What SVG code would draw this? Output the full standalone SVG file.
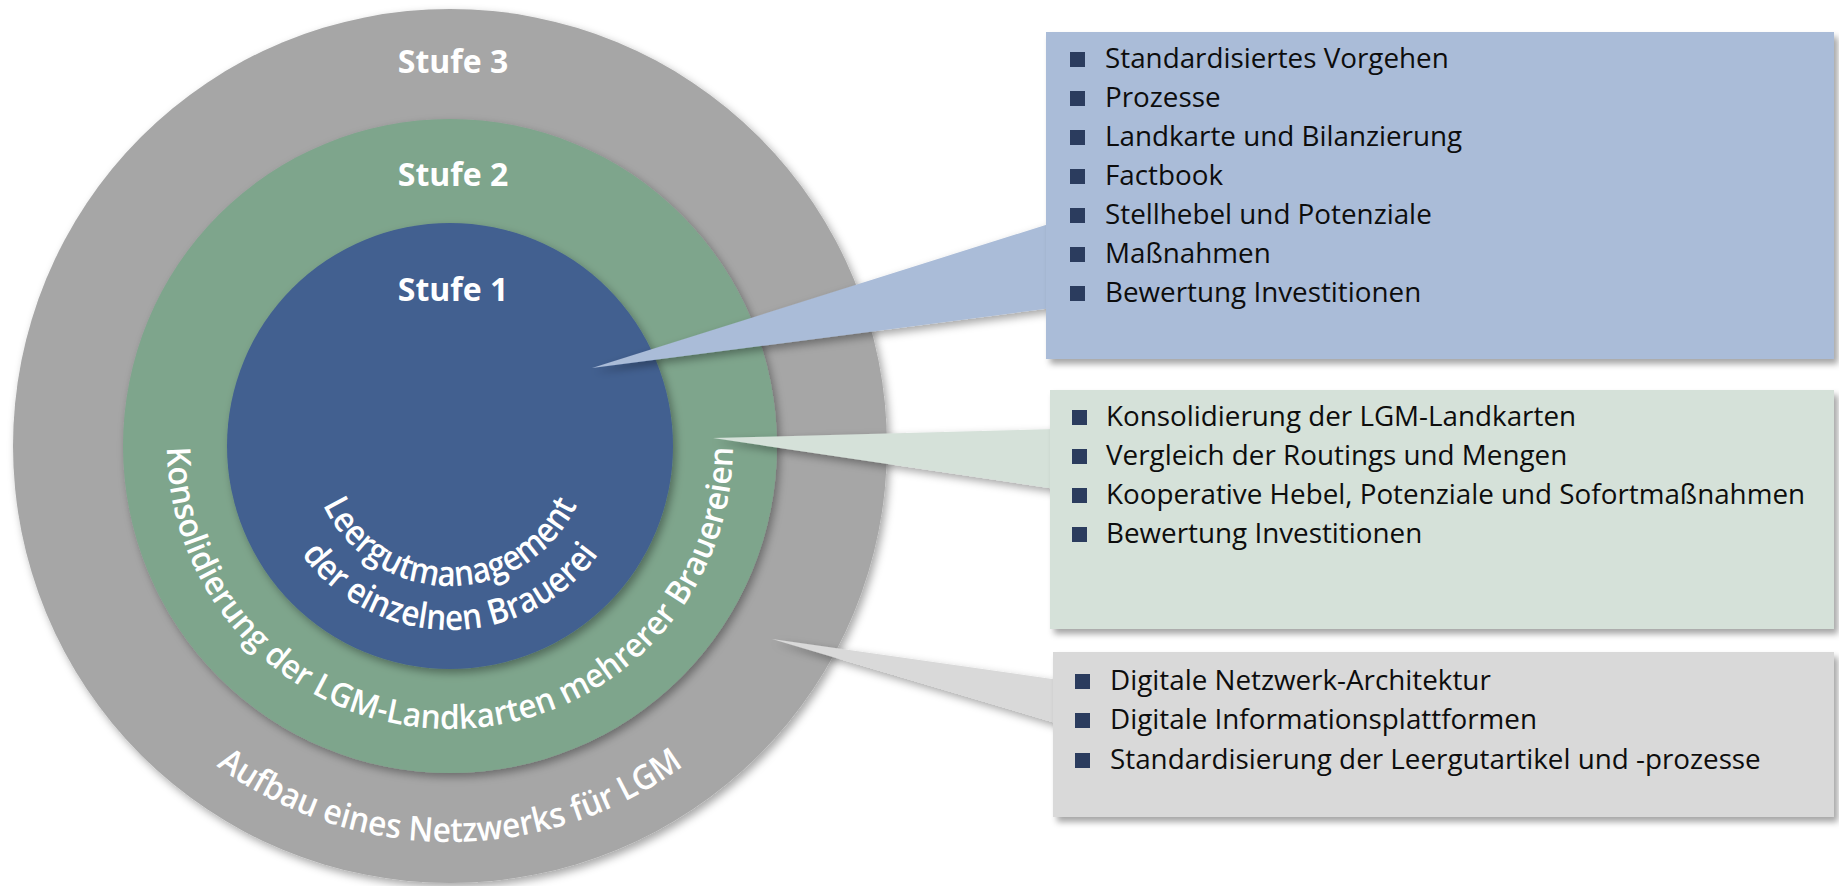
<svg xmlns="http://www.w3.org/2000/svg" xmlns:xlink="http://www.w3.org/1999/xlink" width="1839" height="886" viewBox="0 0 1839 886">
  <style>
    .stage-label { font-family: "Open Sans", "Liberation Sans", sans-serif; font-weight: 700; font-size: 32px; fill: #ffffff; text-anchor: middle; }
    .arc-text { font-family: "Open Sans", "Liberation Sans", sans-serif; font-weight: 600; fill: #ffffff; text-anchor: middle; }
    .item { font-family: "Open Sans", "Liberation Sans", sans-serif; font-size: 27.8px; fill: #0d0d0d; }
    .bullet { fill: #2b3c5e; }
    .c-gray { fill: #a6a6a6; }
    .c-green { fill: #7ea58c; }
    .c-blue { fill: #426090; }
    .f-blue { fill: #aabcd8; }
    .f-green { fill: #d5e1d9; }
    .f-gray { fill: #d9d9d9; }
  </style>
  <defs>
    <filter id="soft-shadow" x="-10%" y="-10%" width="125%" height="125%">
      <feDropShadow dx="3" dy="4" stdDeviation="4" flood-color="#000000" flood-opacity="0.35"/>
    </filter>
    <filter id="box-shadow" x="-5%" y="-10%" width="112%" height="125%">
      <feDropShadow dx="4" dy="5" stdDeviation="3" flood-color="#000000" flood-opacity="0.35"/>
    </filter>
    <!-- full circles starting at the top, running counter-clockwise so the midpoint is the bottom -->
    <path id="arc-outer" d="M450,50 A396,396 0 0 0 450,842 A396,396 0 0 0 450,50"/>
    <path id="arc-middle" d="M450,163 A283,283 0 0 0 450,729 A283,283 0 0 0 450,163"/>
    <path id="arc-inner-1" d="M450,306 A140,140 0 0 0 450,586 A140,140 0 0 0 450,306"/>
    <path id="arc-inner-2" d="M450,262 A184,184 0 0 0 450,630 A184,184 0 0 0 450,262"/>
  </defs>

  <!-- stage 3: outer ring -->
  <g id="stage3">
    <circle class="c-gray" cx="450" cy="446" r="437" filter="url(#soft-shadow)"/>
    <text class="stage-label" x="453" y="73">Stufe 3</text>
    <text class="arc-text" font-size="34"><textPath href="#arc-outer" xlink:href="#arc-outer" startOffset="50%" textLength="500" lengthAdjust="spacingAndGlyphs">Aufbau eines Netzwerks für LGM</textPath></text>
  </g>

  <!-- stage 2: middle ring -->
  <g id="stage2">
    <circle class="c-green" cx="450" cy="446" r="327" filter="url(#soft-shadow)"/>
    <text class="stage-label" x="453" y="186">Stufe 2</text>
    <text class="arc-text" font-size="33"><textPath href="#arc-middle" xlink:href="#arc-middle" startOffset="50%" textLength="886" lengthAdjust="spacingAndGlyphs">Konsolidierung der LGM-Landkarten mehrerer Brauereien</textPath></text>
  </g>

  <!-- stage 1: inner disc -->
  <g id="stage1">
    <circle class="c-blue" cx="450" cy="446" r="223" filter="url(#soft-shadow)"/>
    <text class="stage-label" x="453" y="301">Stufe 1</text>
    <text class="arc-text" font-size="35"><textPath href="#arc-inner-1" xlink:href="#arc-inner-1" startOffset="50%" textLength="318" lengthAdjust="spacingAndGlyphs">Leergutmanagement</textPath></text>
    <text class="arc-text" font-size="35"><textPath href="#arc-inner-2" xlink:href="#arc-inner-2" startOffset="50%" textLength="346" lengthAdjust="spacingAndGlyphs">der einzelnen Brauerei</textPath></text>
  </g>

  <!-- callout pointers -->
  <g id="connectors" filter="url(#soft-shadow)">
    <polygon class="f-blue" points="592,368 1052,223 1052,308"/>
    <polygon class="f-green" points="713,438 1056,429 1056,489"/>
    <polygon class="f-gray" points="772,639 1059,680 1059,724"/>
  </g>

  <!-- stage 1 details -->
  <g id="box-stage1">
    <rect class="f-blue" x="1046" y="32" width="788" height="327" filter="url(#box-shadow)"/>
    <rect class="bullet" x="1070" y="52" width="15" height="15"/>
    <text class="item" x="1105" y="68">Standardisiertes Vorgehen</text>
    <rect class="bullet" x="1070" y="91" width="15" height="15"/>
    <text class="item" x="1105" y="107">Prozesse</text>
    <rect class="bullet" x="1070" y="130" width="15" height="15"/>
    <text class="item" x="1105" y="146">Landkarte und Bilanzierung</text>
    <rect class="bullet" x="1070" y="169" width="15" height="15"/>
    <text class="item" x="1105" y="185">Factbook</text>
    <rect class="bullet" x="1070" y="208" width="15" height="15"/>
    <text class="item" x="1105" y="224">Stellhebel und Potenziale</text>
    <rect class="bullet" x="1070" y="247" width="15" height="15"/>
    <text class="item" x="1105" y="263">Maßnahmen</text>
    <rect class="bullet" x="1070" y="286" width="15" height="15"/>
    <text class="item" x="1105" y="302">Bewertung Investitionen</text>
  </g>

  <!-- stage 2 details -->
  <g id="box-stage2">
    <rect class="f-green" x="1050" y="390" width="784" height="239" filter="url(#box-shadow)"/>
    <rect class="bullet" x="1072" y="410" width="15" height="15"/>
    <text class="item" x="1106" y="426">Konsolidierung der LGM-Landkarten</text>
    <rect class="bullet" x="1072" y="449" width="15" height="15"/>
    <text class="item" x="1106" y="465">Vergleich der Routings und Mengen</text>
    <rect class="bullet" x="1072" y="488" width="15" height="15"/>
    <text class="item" x="1106" y="504">Kooperative Hebel, Potenziale und Sofortmaßnahmen</text>
    <rect class="bullet" x="1072" y="527" width="15" height="15"/>
    <text class="item" x="1106" y="543">Bewertung Investitionen</text>
  </g>

  <!-- stage 3 details -->
  <g id="box-stage3">
    <rect class="f-gray" x="1053" y="652" width="781" height="165" filter="url(#box-shadow)"/>
    <rect class="bullet" x="1075" y="674" width="15" height="15"/>
    <text class="item" x="1110" y="690">Digitale Netzwerk-Architektur</text>
    <rect class="bullet" x="1075" y="713" width="15" height="15"/>
    <text class="item" x="1110" y="729">Digitale Informationsplattformen</text>
    <rect class="bullet" x="1075" y="753" width="15" height="15"/>
    <text class="item" x="1110" y="769">Standardisierung der Leergutartikel und -prozesse</text>
  </g>
</svg>
